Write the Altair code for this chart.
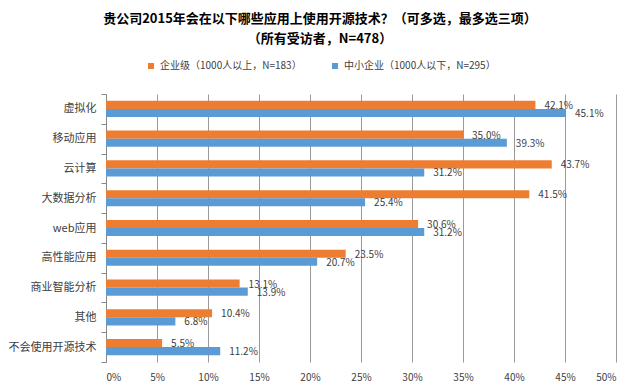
import altair as alt
import pandas as pd

categories = ["虚拟化", "移动应用", "云计算", "大数据分析", "web应用", "高性能应用", "商业智能分析", "其他", "不会使用开源技术"]
series = ["企业级（1000人以上，N=183）", "中小企业（1000人以下，N=295）"]
enterprise = [42.1, 35.0, 43.7, 41.5, 30.6, 23.5, 13.1, 10.4, 5.5]
sme = [45.1, 39.3, 31.2, 25.4, 31.2, 20.7, 13.9, 6.8, 11.2]
colors = ["#ED7D31", "#5B9BD5"]

rows = []
for c, a, b in zip(categories, enterprise, sme):
    rows.append({"cat": c, "series": series[0], "value": a})
    rows.append({"cat": c, "series": series[1], "value": b})
df = pd.DataFrame(rows)

FONT = "Noto Sans CJK SC"

y = alt.Y("cat:N", sort=categories, title=None,
          scale=alt.Scale(paddingInner=0, paddingOuter=0),
          axis=alt.Axis(tickBand="extent", domainColor="#868686", tickColor="#868686",
                        tickSize=5, labelPadding=5, labelFont=FONT, labelFontSize=11,
                        labelColor="#404040", grid=False))
yoff = alt.YOffset("series:N", sort=series, scale=alt.Scale(paddingOuter=0.84, paddingInner=0))
x = alt.X("value:Q", title=None,
          scale=alt.Scale(domain=[0, 50]),
          axis=alt.Axis(values=list(range(0, 55, 5)), labelExpr="datum.value + '%'",
                        domain=False, ticks=False, grid=True, gridColor="#9a9a9a",
                        labelPadding=10, labelFont=FONT, labelFontSize=10, labelColor="#404040"))

bars = alt.Chart(df).mark_bar().encode(
    x=x, y=y, yOffset=yoff,
    color=alt.Color("series:N", sort=series, title=None,
                    scale=alt.Scale(domain=series, range=colors),
                    legend=alt.Legend(orient="none", legendX=40, legendY=-33, direction="horizontal",
                                      symbolType="square", symbolSize=36, labelFont=FONT,
                                      labelFontSize=10, labelColor="#404040", columnPadding=28,
                                      symbolStrokeWidth=0)),
)

labels = alt.Chart(df).transform_calculate(
    label="format(datum.value, '.1f') + '%'"
).mark_text(align="left", baseline="middle", dx=9, dy=1, font=FONT, fontSize=10, color="#404040").encode(
    x="value:Q", y=alt.Y("cat:N", sort=categories), yOffset=alt.YOffset("series:N", sort=series), text="label:N"
)

chart = alt.layer(bars, labels).properties(
    width=510, height=268,
    autosize=alt.AutoSizeParams(type="none"),
    padding={"left": 98, "top": 86, "right": 16, "bottom": 28},
    title=alt.TitleParams(text=["贵公司2015年会在以下哪些应用上使用开源技术？（可多选，最多选三项）", "（所有受访者，N=478）"],
                          font=FONT, fontSize=13, fontWeight="bold", color="#000000",
                          anchor="middle", dx=-41, offset=15, lineHeight=20),
).configure_view(stroke=None)

chart.save("out.html", embed_options={"renderer": "svg", "actions": False})
